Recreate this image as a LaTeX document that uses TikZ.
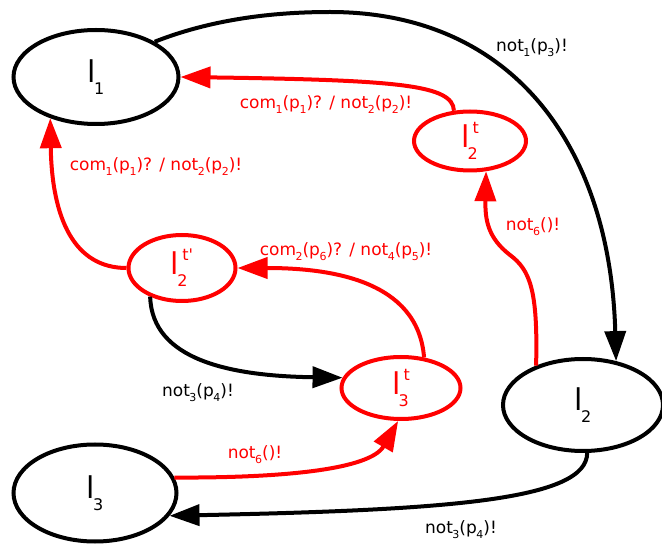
\documentclass[tikz,border=0pt]{standalone}
\usepackage{fontspec}
\setmainfont{DejaVu Sans}
\usetikzlibrary{arrows.meta,shapes.geometric}
\definecolor{transred}{RGB}{255,0,0}
% subscripts in labels and location names
\newcommand{\sbs}[1]{\kern-0.5pt\raisebox{-5pt}{\fontsize{11}{11}\selectfont #1}}
\newcommand{\loc}[1]{l\kern-2pt\raisebox{-12pt}{\fontsize{16}{16}\selectfont #1}}
\newcommand{\loct}[2]{l\kern-2pt\makebox[0pt][l]{\raisebox{-12pt}{\fontsize{16}{16}\selectfont #1}}\raisebox{14pt}{\fontsize{16}{16}\selectfont\kern5pt #2}}

\begin{document}
\begin{tikzpicture}[x=1pt, y=-1pt,
    state/.style={ellipse, draw, line width=4pt, inner sep=0pt, font=\fontsize{30}{30}\selectfont},
    tstate/.style={state, draw=transred, text=transred},
    lbl/.style={inner sep=0pt, font=\fontsize{17}{17}\selectfont},
    tlbl/.style={lbl, text=transred},
    arrow/.style={-{Triangle[length=30pt,width=21pt]}, line width=4pt},
    tarrow/.style={arrow, transred}
  ]
  \useasboundingbox (0,0) rectangle (662,545);
  % locations
  \node[state, minimum width=165pt, minimum height=94pt] (l1) at (96,77) {\loc{1}};
  \node[state, minimum width=160pt, minimum height=92pt] (l2) at (583,405) {\loc{2}};
  \node[state, minimum width=163pt, minimum height=97pt] (l3) at (95,493) {\loc{3}};
  \node[tstate, minimum width=112pt, minimum height=59pt] (l2t) at (470,141) {\loct{2}{t}};
  \node[tstate, minimum width=107pt, minimum height=66pt] (l2tp) at (182,268) {\loct{2}{t\textquotesingle}};
  \node[tstate, minimum width=119pt, minimum height=62pt] (l3t) at (401,388) {\loct{3}{t}};
  % black transitions
  \draw[arrow] (l1.31) .. controls (210,20) and (270,12) .. (330,12)
    .. controls (510,12) and (610,143) .. (l2.53);
  \node[lbl] (n1) at (532,48) {not\sbs{1}(p\sbs{3})!};
  \draw[arrow] (l2tp.222) .. controls (152,360) and (230,376) .. (l3t.170);
  \node[lbl] (n2) at (198,393) {not\sbs{3}(p\sbs{4})!};
  \draw[arrow] (l2.275) .. controls (587,500) and (450,510) .. (l3.343);
  \node[lbl] (n3) at (461,530) {not\sbs{3}(p\sbs{4})!};
  % red transitions
  \draw[tarrow] (l2t.118) .. controls (453,85) and (400,80) .. (l1.east);
  \node[tlbl] (c1) at (326,105) {com\sbs{1}(p\sbs{1})? / not\sbs{2}(p\sbs{2})!};
  \draw[tarrow] (l2tp.west) .. controls (75,268) and (52,220) .. (l1.222);
  \node[tlbl] (c2) at (156,167) {com\sbs{1}(p\sbs{1})? / not\sbs{2}(p\sbs{2})!};
  \draw[tarrow] (l3t.53) .. controls (418,280) and (330,268) .. (l2tp.east);
  \node[tlbl] (c3) at (346,252) {com\sbs{2}(p\sbs{6})? / not\sbs{4}(p\sbs{5})!};
  \draw[tarrow] (l2.140) .. controls (538,290) and (530,270) .. (510,255)
    .. controls (488,238) and (485,220) .. (l2t.298);
  \node[tlbl] (c4) at (533,227) {not\sbs{6}()!};
  \draw[tarrow] (l3.11) .. controls (280,478) and (370,470) .. (l3t.265);
  \node[tlbl] (c5) at (255,455) {not\sbs{6}()!};
\end{tikzpicture}
\end{document}
